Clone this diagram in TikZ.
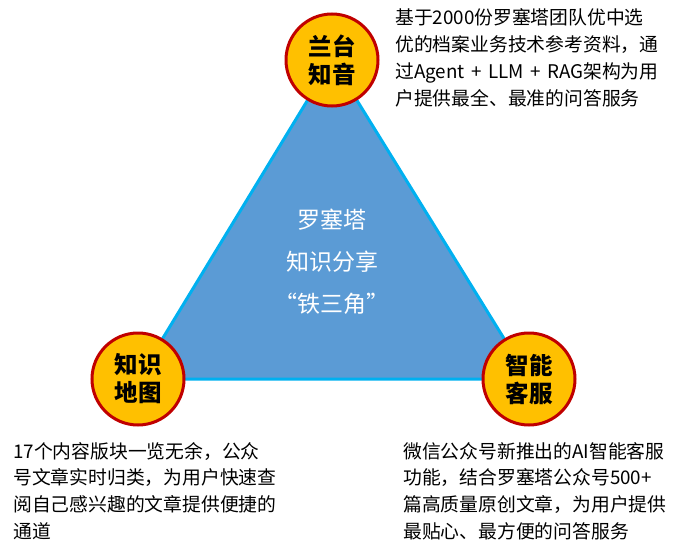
\documentclass[tikz,border=0pt]{standalone}
\usepackage{fontspec}
\setmainfont{Noto Sans CJK SC}
\usetikzlibrary{positioning}
\definecolor{triblue}{HTML}{5B9BD5}
\definecolor{triedge}{HTML}{00B0F0}
\definecolor{gold}{HTML}{FFC000}
\definecolor{darkred}{HTML}{C00000}
\newcommand{\pl}{\hspace{6.5pt}+\hspace{6.5pt}}

\begin{document}
\begin{tikzpicture}[x=1pt,y=-1pt,
  corner/.style={circle,draw=darkred,line width=3pt,fill=gold,minimum size=92pt,inner sep=0pt,align=center,font=\fontsize{23.5}{28}\selectfont\bfseries},
  note/.style={anchor=north west,inner sep=0pt,align=left,font=\fontsize{18.8}{26.8}\selectfont},
  tri/.style={fill=triblue,draw=triedge,line width=3pt,line join=round}]
\useasboundingbox (0,0) rectangle (679,556);
\coordinate (top) at (332,60);
\coordinate (left) at (138,379);
\coordinate (right) at (529,379);
% the triangle
\draw[tri] (top) -- (left) -- (right) -- cycle;
\node[align=center,text=white,font=\fontsize{23}{42}\selectfont] (core) at (332,262) {罗塞塔\\知识分享\\“铁三角”};
% three corners
\node[corner] (lantai) at (top) {兰台\\知音};
\node[corner] (ditu) at (left) {知识\\地图};
\node[corner] (kefu) at (right) {智能\\客服};
% notes
\node[note] (toptext) at (395,8.5) {基于2000份罗塞塔团队优中选\\优的档案业务技术参考资料，通\\过Agent\pl LLM\pl RAG架构为用\\户提供最全、最准的问答服务};
\node[note] (lefttext) at (13,442) {17个内容版块一览无余，公众\\号文章实时归类，为用户快速查\\阅自己感兴趣的文章提供便捷的\\通道};
\node[note] (righttext) at (403,442) {微信公众号新推出的AI智能客服\\功能，结合罗塞塔公众号500+\\篇高质量原创文章，为用户提供\\最贴心、最方便的问答服务};
\end{tikzpicture}
\end{document}
